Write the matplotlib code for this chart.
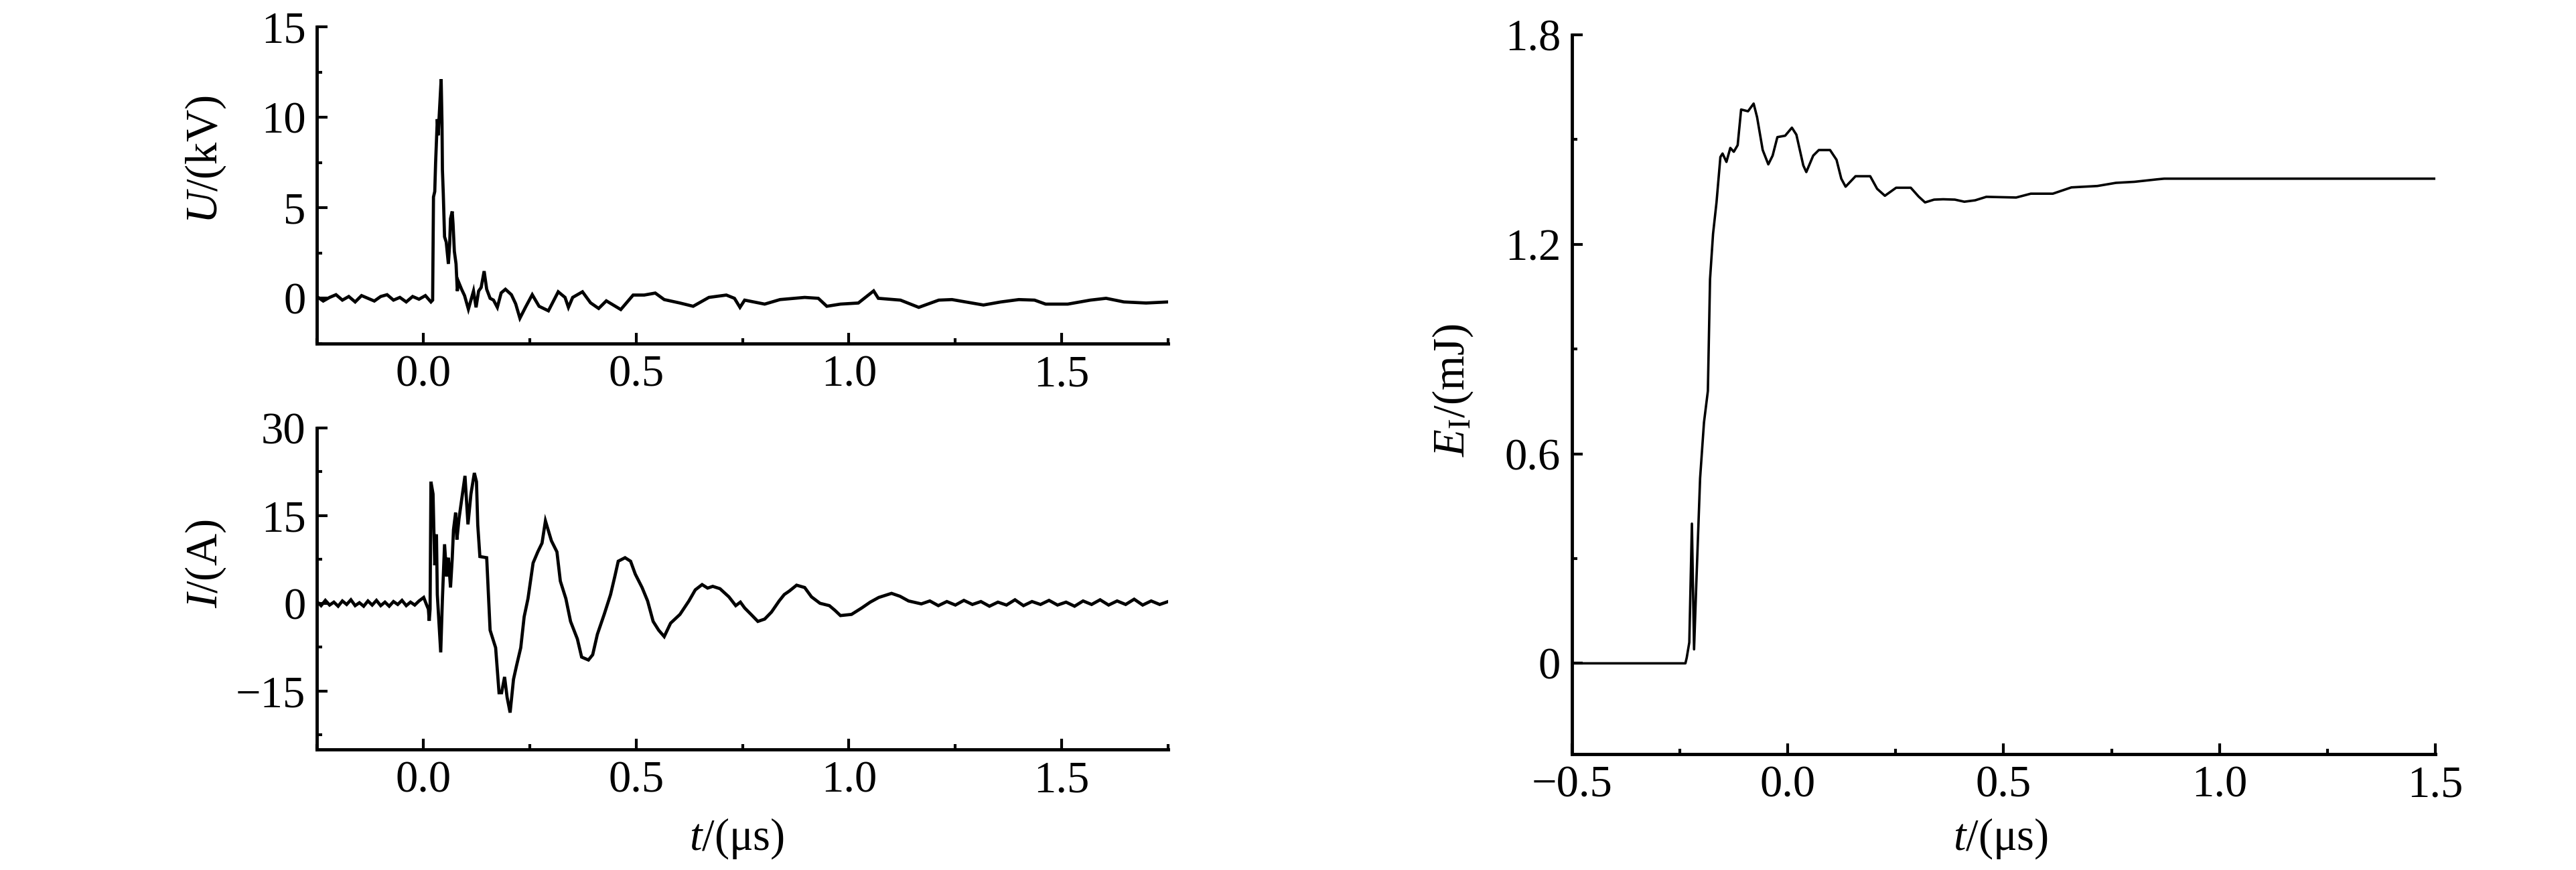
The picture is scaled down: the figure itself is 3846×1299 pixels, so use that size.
import matplotlib
matplotlib.use("Agg")
import matplotlib.pyplot as plt
from matplotlib.ticker import MultipleLocator, FuncFormatter

# ---------------- data ----------------
# Voltage U (kV) versus time t (us)
U_points = [
    (-0.25, 0.1), (-0.235, -0.15), (-0.22, 0.05), (-0.205, 0.2), (-0.19, -0.1),
    (-0.175, 0.1), (-0.16, -0.2), (-0.145, 0.15), (-0.13, 0.0), (-0.115, -0.15),
    (-0.10, 0.1), (-0.085, 0.2), (-0.07, -0.1), (-0.055, 0.05), (-0.04, -0.2),
    (-0.025, 0.1), (-0.01, -0.05), (0.005, 0.15), (0.018, -0.2),
    (0.022, -0.1), (0.024, 5.6), (0.027, 5.9), (0.029, 7.5), (0.033, 9.9),
    (0.035, 9.0), (0.037, 9.9), (0.042, 12.1), (0.044, 9.7), (0.045, 7.1),
    (0.047, 5.8), (0.050, 3.4), (0.054, 3.1), (0.059, 1.9), (0.062, 3.0),
    (0.064, 4.4), (0.068, 4.8), (0.070, 4.1), (0.073, 2.6), (0.077, 1.9),
    (0.080, 0.4), (0.083, 0.9), (0.090, 0.5), (0.097, 0.15), (0.106, -0.6),
    (0.112, -0.1), (0.118, 0.4), (0.124, -0.5), (0.130, 0.4), (0.136, 0.6),
    (0.143, 1.5), (0.149, 0.5), (0.157, 0.0), (0.165, -0.1), (0.174, -0.5),
    (0.183, 0.3), (0.193, 0.5), (0.207, 0.2), (0.217, -0.3), (0.227, -1.1),
    (0.240, -0.5), (0.256, 0.2), (0.272, -0.44), (0.294, -0.69), (0.317, 0.36),
    (0.333, 0.05), (0.341, -0.5), (0.351, 0.05), (0.374, 0.36), (0.393, -0.25),
    (0.412, -0.56), (0.430, -0.14), (0.464, -0.62), (0.493, 0.18), (0.519, 0.18),
    (0.545, 0.29), (0.566, -0.07), (0.603, -0.26), (0.634, -0.44), (0.671, 0.05),
    (0.712, 0.18), (0.731, 0.0), (0.744, -0.5), (0.755, -0.1), (0.802, -0.32),
    (0.838, -0.07), (0.896, 0.05), (0.928, 0.0), (0.948, -0.44), (0.980, -0.32),
    (1.022, -0.26), (1.058, 0.41), (1.069, 0.0), (1.121, -0.1), (1.164, -0.5),
    (1.211, -0.1), (1.242, -0.07), (1.274, -0.2), (1.316, -0.37), (1.357, -0.2),
    (1.399, -0.07), (1.436, -0.1), (1.462, -0.32), (1.514, -0.32), (1.567, -0.1),
    (1.604, 0.0), (1.646, -0.2), (1.698, -0.26), (1.75, -0.2),
]

# Current I (A) versus time t (us)
I_points = [
    (-0.25, 0.3), (-0.24, -0.4), (-0.23, 0.5), (-0.22, -0.3), (-0.21, 0.2),
    (-0.20, -0.5), (-0.19, 0.4), (-0.18, -0.2), (-0.17, 0.6), (-0.16, -0.4),
    (-0.15, 0.1), (-0.14, -0.5), (-0.13, 0.4), (-0.12, -0.3), (-0.11, 0.5),
    (-0.10, -0.4), (-0.09, 0.2), (-0.08, -0.5), (-0.07, 0.3), (-0.06, -0.2),
    (-0.05, 0.5), (-0.04, -0.4), (-0.03, 0.2), (-0.02, -0.3), (-0.01, 0.4),
    (0.001, 1.0), (0.008, -0.3), (0.012, -1.0), (0.014, -3.0), (0.016, -1.0),
    (0.018, 20.8), (0.021, 19.5), (0.023, 18.7), (0.025, 12.2), (0.027, 6.5),
    (0.031, 11.8), (0.033, 1.5), (0.041, -8.4), (0.045, 0.8), (0.050, 10.1),
    (0.055, 4.6), (0.059, 7.8), (0.064, 2.7), (0.068, 7.6), (0.071, 12.6),
    (0.076, 15.5), (0.079, 10.9), (0.084, 14.5), (0.092, 18.7), (0.098, 21.8),
    (0.105, 13.5), (0.112, 18.7), (0.120, 22.3), (0.125, 20.8), (0.128, 13.4),
    (0.133, 8.0), (0.149, 7.8), (0.152, 3.1), (0.157, -4.6), (0.170, -7.6),
    (0.178, -15.3), (0.184, -15.3), (0.191, -12.6), (0.197, -16.1), (0.204, -18.7),
    (0.212, -13.0), (0.219, -10.7), (0.229, -7.6), (0.237, -2.3), (0.246, 0.8),
    (0.258, 6.9), (0.269, 8.8), (0.279, 10.3), (0.287, 14.1), (0.301, 10.7),
    (0.314, 8.8), (0.322, 3.8), (0.335, 0.8), (0.346, -3.1), (0.362, -6.1),
    (0.372, -9.2), (0.388, -9.7), (0.398, -8.8), (0.409, -5.3), (0.425, -1.9),
    (0.440, 1.5), (0.450, 4.6), (0.458, 7.2), (0.474, 7.8), (0.487, 7.2),
    (0.498, 5.0), (0.514, 2.7), (0.527, 0.4), (0.540, -3.1), (0.553, -4.6),
    (0.566, -5.7), (0.581, -3.4), (0.603, -1.9), (0.624, 0.4), (0.639, 2.3),
    (0.655, 3.2), (0.668, 2.6), (0.680, 2.9), (0.697, 2.5), (0.718, 1.1),
    (0.734, -0.4), (0.745, 0.2), (0.755, -0.8), (0.770, -1.9), (0.786, -3.1),
    (0.802, -2.7), (0.818, -1.5), (0.836, 0.4), (0.848, 1.5), (0.860, 2.1),
    (0.877, 3.1), (0.896, 2.7), (0.912, 1.1), (0.932, 0.0), (0.954, -0.4),
    (0.967, -1.2), (0.980, -2.1), (1.006, -1.9), (1.03, -0.8), (1.05, 0.2),
    (1.07, 1.0), (1.10, 1.7), (1.12, 1.2), (1.14, 0.4), (1.17, -0.1),
    (1.19, 0.4), (1.21, -0.4), (1.23, 0.3), (1.25, -0.3), (1.27, 0.5),
    (1.29, -0.2), (1.31, 0.3), (1.33, -0.5), (1.35, 0.2), (1.37, -0.3),
    (1.39, 0.6), (1.41, -0.4), (1.43, 0.3), (1.45, -0.2), (1.47, 0.5),
    (1.49, -0.3), (1.51, 0.2), (1.53, -0.5), (1.55, 0.4), (1.57, -0.2),
    (1.59, 0.6), (1.61, -0.3), (1.63, 0.4), (1.65, -0.2), (1.67, 0.7),
    (1.69, -0.3), (1.71, 0.4), (1.73, -0.2), (1.75, 0.3),
]

# Energy E_I (mJ) versus time t (us)
E_points = [
    (-0.5, 0.0), (-0.30, 0.0), (-0.237, 0.0), (-0.234, 0.016), (-0.228, 0.06),
    (-0.222, 0.40), (-0.217, 0.04), (-0.212, 0.22), (-0.203, 0.53), (-0.194, 0.69),
    (-0.185, 0.78), (-0.180, 1.10), (-0.173, 1.23), (-0.165, 1.32), (-0.156, 1.45),
    (-0.151, 1.46), (-0.142, 1.436), (-0.133, 1.476), (-0.125, 1.465), (-0.116, 1.484),
    (-0.108, 1.586), (-0.092, 1.581), (-0.079, 1.603), (-0.071, 1.564), (-0.058, 1.470),
    (-0.045, 1.429), (-0.035, 1.454), (-0.024, 1.507), (-0.006, 1.511), (0.0096, 1.534),
    (0.020, 1.514), (0.036, 1.426), (0.043, 1.407), (0.059, 1.454), (0.072, 1.470),
    (0.098, 1.470), (0.113, 1.442), (0.124, 1.388), (0.134, 1.365), (0.157, 1.395),
    (0.191, 1.395), (0.207, 1.359), (0.225, 1.339), (0.251, 1.362), (0.285, 1.362),
    (0.303, 1.337), (0.318, 1.320), (0.339, 1.328), (0.360, 1.329), (0.387, 1.328),
    (0.409, 1.322), (0.434, 1.326), (0.460, 1.336), (0.529, 1.334), (0.563, 1.345),
    (0.614, 1.345), (0.657, 1.363), (0.717, 1.367), (0.760, 1.376), (0.803, 1.379),
    (0.855, 1.386), (0.872, 1.388), (1.5, 1.388),
]

U_time, U_kV = zip(*U_points)
I_time, I_A = zip(*I_points)
E_time, E_mJ = zip(*E_points)

left_xticks = [0.0, 0.5, 1.0, 1.5]
U_yticks = [0, 5, 10, 15]
I_yticks = [-15, 0, 15, 30]
E_xticks = [-0.5, 0.0, 0.5, 1.0, 1.5]
E_yticks = [0, 0.6, 1.2, 1.8]

# ---------------- style ----------------
plt.rcParams["font.family"] = ["Liberation Serif", "DejaVu Serif"]
plt.rcParams["mathtext.fontset"] = "custom"
plt.rcParams["mathtext.rm"] = "Liberation Serif"
plt.rcParams["mathtext.it"] = "Liberation Serif:italic"
plt.rcParams["axes.unicode_minus"] = True

FS = 48
fig = plt.figure(figsize=(38.46, 12.99), dpi=100)
ax_u = fig.add_axes([0.1230, 0.6051, 0.3305, 0.3641])
ax_i = fig.add_axes([0.1230, 0.1386, 0.3305, 0.3695])
ax_e = fig.add_axes([0.6102, 0.1332, 0.3352, 0.8268])


def style(ax):
    for s in ("top", "right"):
        ax.spines[s].set_visible(False)
    for s in ("left", "bottom"):
        ax.spines[s].set_linewidth(3.5)
    ax.tick_params(which="both", direction="in", top=False, right=False,
                   labelsize=FS, pad=12)
    ax.tick_params(which="major", length=11.5, width=3)
    ax.tick_params(which="minor", length=6, width=3)


def fmt_one_decimal(v, pos):
    return f"{v:.1f}".replace("-", "\u2212")


def fmt_e(v, pos):
    return "0" if abs(v) < 1e-9 else f"{v:.1f}"


lw = 3.4
ax_u.plot(U_time, U_kV, color="black", lw=lw, solid_joinstyle="miter")
ax_u.set_xlim(-0.25, 1.75)
ax_u.set_ylim(-2.5, 15)
ax_u.set_xticks(left_xticks)
ax_u.set_yticks(U_yticks)
ax_u.xaxis.set_minor_locator(MultipleLocator(0.25))
ax_u.yaxis.set_minor_locator(MultipleLocator(2.5))
ax_u.xaxis.set_major_formatter(FuncFormatter(fmt_one_decimal))
style(ax_u)
ax_u.set_ylabel("$U$/(kV)", fontsize=FS)
ax_u.yaxis.set_label_coords(-0.105, 0.58)

ax_i.plot(I_time, I_A, color="black", lw=lw, solid_joinstyle="miter")
ax_i.set_xlim(-0.25, 1.75)
ax_i.set_ylim(-25, 30)
ax_i.set_xticks(left_xticks)
ax_i.set_yticks(I_yticks)
ax_i.xaxis.set_minor_locator(MultipleLocator(0.25))
ax_i.yaxis.set_minor_locator(MultipleLocator(7.5))
ax_i.xaxis.set_major_formatter(FuncFormatter(fmt_one_decimal))
style(ax_i)
ax_i.set_ylabel("$I$/(A)", fontsize=FS)
ax_i.yaxis.set_label_coords(-0.105, 0.577)
ax_i.set_xlabel("$t$/(\u03bcs)", fontsize=FS)
ax_i.xaxis.set_label_coords(0.493, -0.208)

ax_e.plot(E_time, E_mJ, color="black", lw=2.6)
ax_e.set_xlim(-0.5, 1.5)
ax_e.set_ylim(-0.26, 1.8)
ax_e.set_xticks(E_xticks)
ax_e.set_yticks(E_yticks)
ax_e.xaxis.set_minor_locator(MultipleLocator(0.25))
ax_e.yaxis.set_minor_locator(MultipleLocator(0.3))
ax_e.xaxis.set_major_formatter(FuncFormatter(fmt_one_decimal))
ax_e.yaxis.set_major_formatter(FuncFormatter(fmt_e))
style(ax_e)
ax_e.set_ylabel("$E_{\\mathrm{I}}$/(mJ)", fontsize=FS)
ax_e.yaxis.set_label_coords(-0.112, 0.506)
ax_e.set_xlabel("$t$/(\u03bcs)", fontsize=FS)
ax_e.xaxis.set_label_coords(0.497, -0.087)

fig.savefig("out.png", dpi=100)
